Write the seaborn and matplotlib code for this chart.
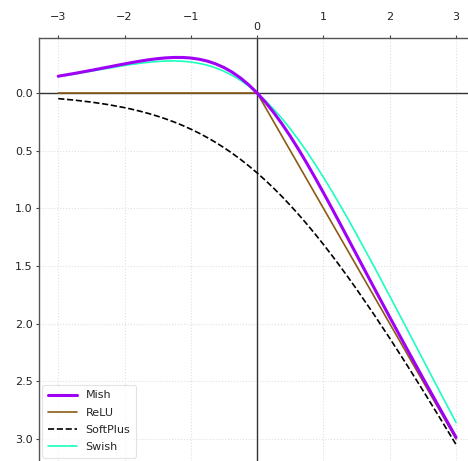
import matplotlib
matplotlib.use("Agg")
import matplotlib.pyplot as plt
import seaborn as sns
import pandas as pd

x_vals = [-3.0, -2.75, -2.5, -2.25, -2.0, -1.875, -1.75, -1.625, -1.5, -1.375, -1.25, -1.125,
          -1.0, -0.875, -0.75, -0.625, -0.5, -0.375, -0.25, -0.125, 0.0, 0.125, 0.25, 0.375,
          0.5, 0.625, 0.75, 0.875, 1.0, 1.125, 1.25, 1.375, 1.5, 1.75, 2.0, 2.25, 2.5, 2.75, 3.0]
mish = [-0.1456, -0.1702, -0.1968, -0.2247, -0.2525, -0.2657, -0.2780, -0.2890, -0.2981,
        -0.3048, -0.3084, -0.3082, -0.3034, -0.2931, -0.2765, -0.2526, -0.2207, -0.1800,
        -0.1299, -0.0700, 0.0, 0.0800, 0.1696, 0.2683, 0.3752, 0.4895, 0.6100, 0.7356,
        0.8651, 0.9975, 1.1319, 1.2674, 1.4034, 1.6749, 1.9440, 2.2095, 2.4714, 2.7302, 2.9865]
relu_x = [-3.0, 0.0, 3.0]
relu = [0.0, 0.0, 3.0]
softplus = [0.0486, 0.0620, 0.0789, 0.1002, 0.1269, 0.1427, 0.1602, 0.1797, 0.2014,
            0.2254, 0.2519, 0.2812, 0.3133, 0.3484, 0.3869, 0.4287, 0.4741, 0.5231,
            0.5759, 0.6326, 0.6931, 0.7576, 0.8259, 0.8981, 0.9741, 1.0537, 1.1369,
            1.2234, 1.3133, 1.4062, 1.5019, 1.6004, 1.7014, 1.9102, 2.1269, 2.3502,
            2.5789, 2.8120, 3.0486]
swish = [-0.1423, -0.1652, -0.1896, -0.2145, -0.2384, -0.2493, -0.2591, -0.2673, -0.2736,
         -0.2775, -0.2784, -0.2757, -0.2689, -0.2574, -0.2406, -0.2179, -0.1888, -0.1527,
         -0.1095, -0.0586, 0.0, 0.0664, 0.1405, 0.2223, 0.3112, 0.4071, 0.5094, 0.6176,
         0.7311, 0.8493, 0.9716, 1.0975, 1.2264, 1.4909, 1.7616, 2.0355, 2.3104, 2.5848, 2.8577]
x_ticks = [-3, -2, -1, 0, 1, 2, 3]
x_tick_labels = ["\u22123", "\u22122", "\u22121", "0", "1", "2", "3"]
y_ticks = [0.0, 0.5, 1.0, 1.5, 2.0, 2.5, 3.0]
y_tick_labels = ["0.0", "0.5", "1.0", "1.5", "2.0", "2.5", "3.0"]

sns.set_style("white")
plt.rcParams["font.family"] = ["DejaVu Sans"]

fig = plt.figure(figsize=(4.68, 4.61), dpi=100)
ax = fig.add_axes([39 / 468, 0.0, 1 - 39 / 468, 1 - 38 / 461])

df_mish = pd.DataFrame({"x": x_vals, "y": mish})
df_relu = pd.DataFrame({"x": relu_x, "y": relu})
df_sp = pd.DataFrame({"x": x_vals, "y": softplus})
df_sw = pd.DataFrame({"x": x_vals, "y": swish})

ax.axhline(0, color="#333333", lw=1.0, zorder=1)
ax.axvline(0, color="#333333", lw=1.0, zorder=1)

sns.lineplot(data=df_mish, x="x", y="y", ax=ax, color="#a000f5", lw=2.2, label="Mish", zorder=3)
sns.lineplot(data=df_relu, x="x", y="y", ax=ax, color="#8b5a14", lw=1.2, label="ReLU", zorder=2)
sns.lineplot(data=df_sp, x="x", y="y", ax=ax, color="black", lw=1.2, ls="--", label="SoftPlus", zorder=2)
sns.lineplot(data=df_sw, x="x", y="y", ax=ax, color="#1affc0", lw=1.2, label="Swish", zorder=2)

ax.set_xlim(-3.29, 3.18)
ax.set_ylim(3.191, -0.477)
ax.xaxis.tick_top()
ax.set_xticks(x_ticks)
ax.set_xticklabels(x_tick_labels)
ax.set_yticks(y_ticks)
ax.set_yticklabels(y_tick_labels)
ax.set_xlabel("")
ax.set_ylabel("")
ax.tick_params(axis="both", labelsize=8, length=2.5, width=0.8, color="#444444",
               direction="out", labelcolor="#222222")
ax.tick_params(axis="x", pad=9, top=True, bottom=False)
ax.tick_params(axis="y", pad=2, left=True)
for t, v in zip(ax.xaxis.get_major_ticks(), x_ticks):
    if v == 0:
        t.set_pad(1.5)

ax.grid(True, color="#e0e0e0", lw=0.8, ls=":")
for s in ["right", "bottom"]:
    ax.spines[s].set_visible(False)
for s in ["left", "top"]:
    ax.spines[s].set_visible(True)
    ax.spines[s].set_color("#555555")
    ax.spines[s].set_linewidth(1.0)

leg = ax.legend(loc="lower left", fontsize=8, frameon=True, handlelength=2.6,
                labelspacing=0.65, borderpad=0.5,
                bbox_to_anchor=(0.0, 0.0), borderaxespad=0.3)
leg.get_frame().set_edgecolor("#dddddd")
leg.get_frame().set_linewidth(0.8)

fig.savefig("out.png", dpi=100)
